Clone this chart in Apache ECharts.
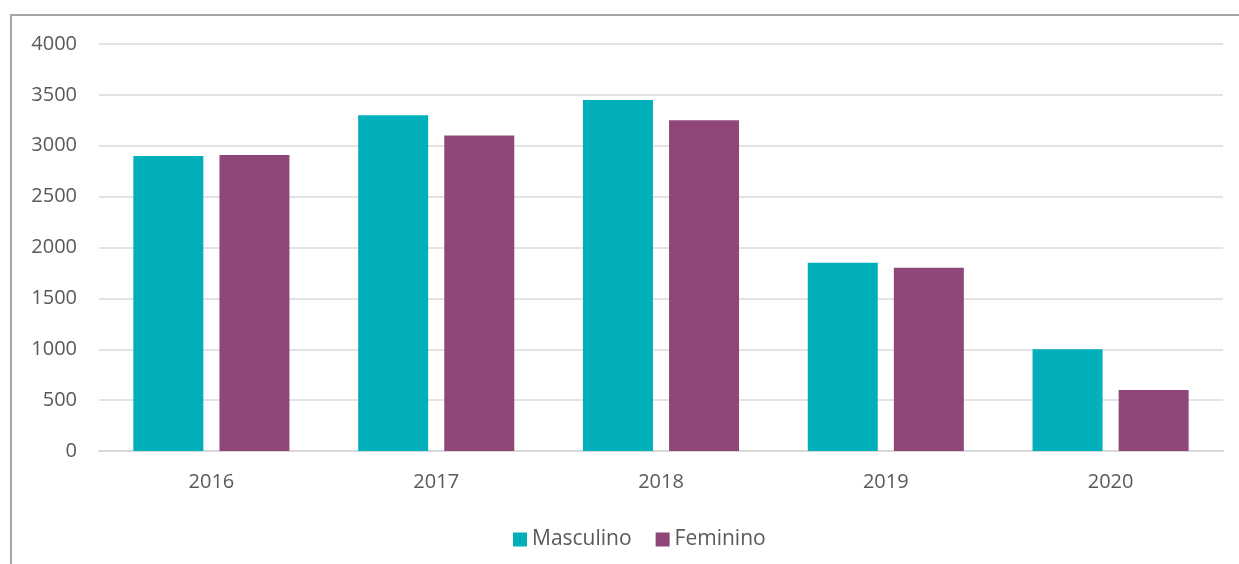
<!DOCTYPE html>
<html>
<head>
<meta charset="utf-8">
<script src="https://cdn.jsdelivr.net/npm/echarts@6/dist/echarts.min.js"></script>
<style>
  html, body { margin: 0; padding: 0; background: #fff; }
  #chart { width: 1239px; height: 564px; }
</style>
</head>
<body>
<div id="chart"></div>
<script>
const years = ['2016', '2017', '2018', '2019', '2020'];
const masculino = [2900, 3300, 3450, 1850, 1000];
const feminino = [2910, 3100, 3250, 1800, 600];
const yTicks = { min: 0, max: 4000, interval: 500 };

const chart = echarts.init(document.getElementById('chart'), null, { renderer: 'canvas' });

const labelFont = '"Open Sans", "Noto Sans", sans-serif';

chart.setOption({
    animation: false,
    backgroundColor: '#fff',
    graphic: [{
        type: 'rect',
        shape: { x: 11, y: 15, width: 1240, height: 560 },
        style: { fill: 'none', stroke: '#a6a6a6', lineWidth: 2 },
        silent: true
    }],
    grid: { left: 99, right: 16, top: 44, bottom: 113 },
    legend: {
        top: 524,
        left: 508,
        itemWidth: 14,
        itemHeight: 14,
        itemGap: 24,
        icon: 'rect',
        textStyle: { fontFamily: labelFont, fontSize: 21, color: '#595959' },
        data: ['Masculino', 'Feminino']
    },
    xAxis: {
        type: 'category',
        data: years,
        axisLine: { lineStyle: { color: '#d9d9d9', width: 2 } },
        axisTick: { show: false },
        axisLabel: { fontFamily: labelFont, fontSize: 20, color: '#595959', margin: 21 }
    },
    yAxis: {
        type: 'value',
        min: yTicks.min,
        max: yTicks.max,
        interval: yTicks.interval,
        axisLine: { show: false },
        axisTick: { show: false },
        splitLine: { lineStyle: { color: '#e3e3e3', width: 2 } },
        axisLabel: {
            fontFamily: labelFont, fontSize: 20, color: '#595959', margin: 22,
            formatter: (v) => String(v)
        }
    },
    series: [
        {
            name: 'Masculino',
            type: 'bar',
            data: masculino,
            barWidth: 70,
            barGap: '23%',
            itemStyle: { color: '#00afb9' }
        },
        {
            name: 'Feminino',
            type: 'bar',
            data: feminino,
            barWidth: 70,
            itemStyle: { color: '#8f4678' }
        }
    ]
});
</script>
</body>
</html>
